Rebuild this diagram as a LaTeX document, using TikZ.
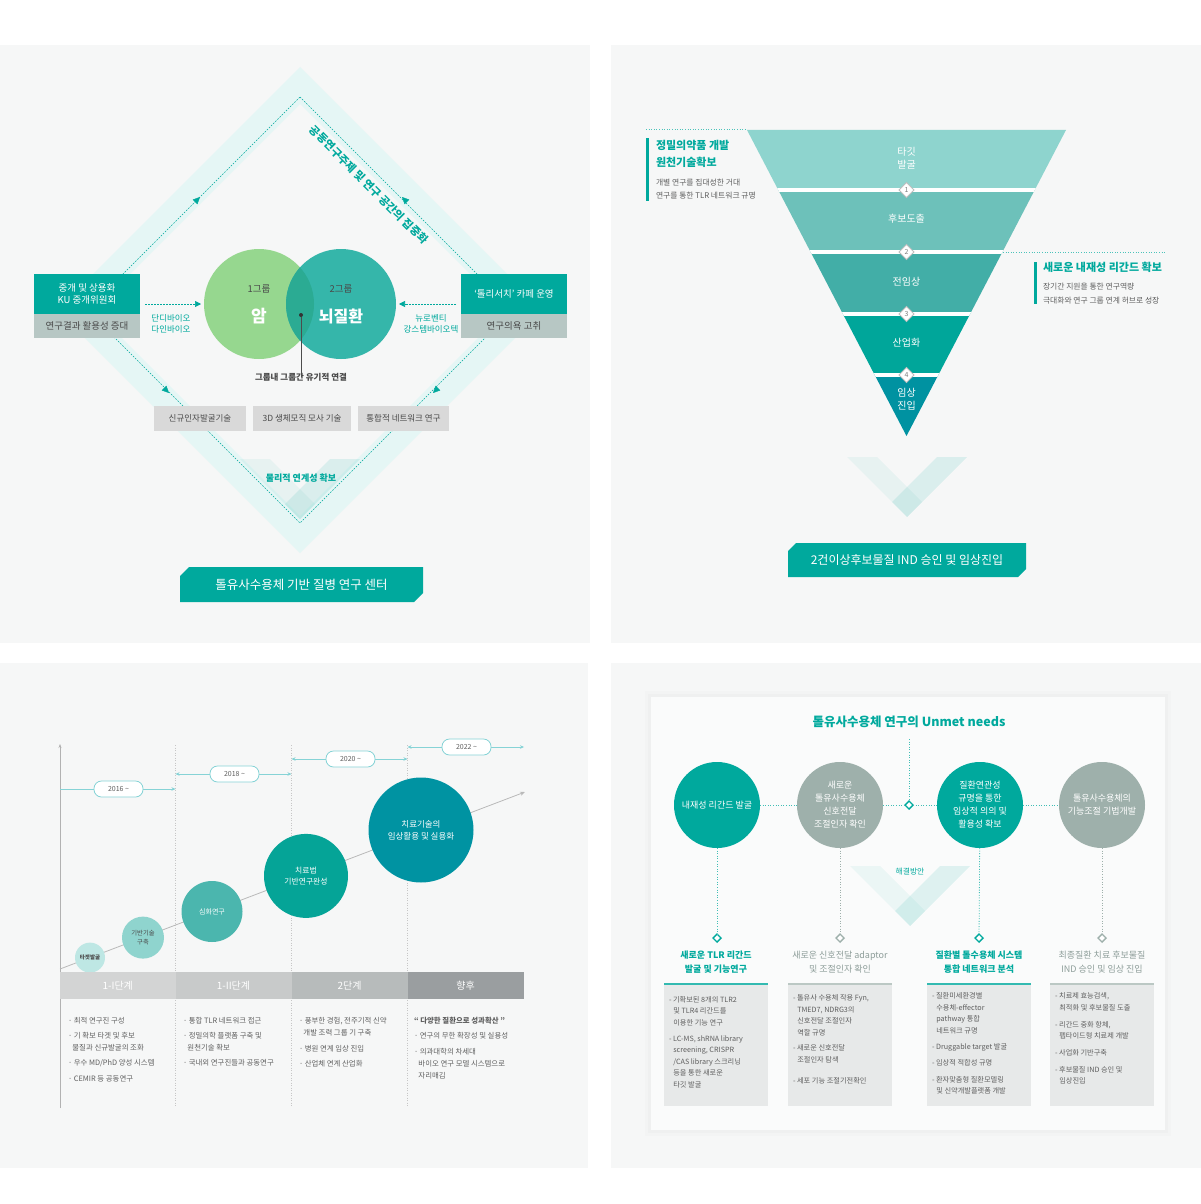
\documentclass[tikz,border=0pt]{standalone}
\usepackage{fontspec}
\setmainfont{Noto Sans CJK KR}
\usetikzlibrary{arrows.meta,shapes.geometric}
\definecolor{cteal}{HTML}{00A99D}
\definecolor{cteal2}{HTML}{35B6AA}
\definecolor{cgreen}{HTML}{96D78F}
\definecolor{coverlap}{HTML}{2BAB93}
\definecolor{csage}{HTML}{B7C7C4}
\definecolor{cgbox}{HTML}{D9D9D9}
\definecolor{cpanel}{HTML}{F6F7F7}
\definecolor{ccard}{HTML}{FAFBFB}
\definecolor{ctext}{HTML}{4A4A4A}
\definecolor{cbody}{HTML}{5E5E5E}
\definecolor{ccyan}{HTML}{86D3D6}
\definecolor{cgrayc}{HTML}{9EB0AB}
\definecolor{cgrayh}{HTML}{8E9E9A}
\definecolor{cbox}{HTML}{E7E9E9}
\definecolor{cf1}{HTML}{8ED4CE}
\definecolor{cf2}{HTML}{6DC1BA}
\definecolor{cf3}{HTML}{42AEA7}
\definecolor{cf4}{HTML}{00A69A}
\definecolor{cf5}{HTML}{0092A1}
\definecolor{cp1}{HTML}{D3D4D4}
\definecolor{cp2}{HTML}{C8CACA}
\definecolor{cp3}{HTML}{B7BBBB}
\definecolor{cp4}{HTML}{9A9EA0}
\definecolor{cc1}{HTML}{BEE7E4}
\definecolor{cc2}{HTML}{8FD4CE}
\definecolor{cc3}{HTML}{4BB6AE}
\definecolor{cc4}{HTML}{05A497}
\definecolor{cc5}{HTML}{0093A2}
\newcommand{\fsz}[2]{\fontsize{#1}{#2}\selectfont}
\newcommand{\ind}{\hspace*{0.6em}}
\newcommand{\vmark}[2]{%
  \fill[cteal, fill opacity=0.06] (#1-60,#2) -- (#1-30,#2) -- (#1+15,#2+45) -- (#1,#2+60) -- cycle;
  \fill[cteal, fill opacity=0.11] (#1+30,#2) -- (#1+60,#2) -- (#1,#2+60) -- (#1-15,#2+45) -- cycle;}
\tikzset{
  every node/.style={inner sep=0pt, outer sep=0pt},
  tdash/.style={draw=cteal, line width=0.6pt, dash pattern=on 1.6pt off 1.4pt},
  tiptri/.style={-{Triangle[length=7pt,width=6.5pt]}, draw=cteal, fill=cteal, line width=0.4pt},
  sidebox/.style={fill=cteal, text=white, minimum width=106pt, minimum height=40pt, align=center, font=\fsz{9.5}{12.5}},
  sidelow/.style={fill=csage, text=ctext, minimum width=106pt, minimum height=24pt, font=\fsz{9.5}{11}, anchor=north},
  gbox/.style={fill=cgbox, text=ctext, minimum height=25pt, font=\fsz{8.5}{10}},
  fl/.style={text=white, align=center, font=\fsz{10}{12.5}},
  numd/.style={diamond, draw=gray!50, line width=0.9pt, fill=white, minimum size=15pt, font=\fsz{7}{7}, text=gray},
  anth/.style={anchor=west, align=left, text=cteal, font=\bfseries\fsz{11}{17}},
  ants/.style={anchor=west, align=left, text=cbody, font=\fsz{7.8}{13.5}},
  yp/.style={draw=ccyan, line width=0.8pt, fill=white, rounded corners=7.5pt, minimum width=49pt, minimum height=16pt, font=\fsz{7}{7}, text=cbody},
  yarr/.style={draw=ccyan, line width=0.6pt, {Stealth[length=4pt,width=3.5pt]}-{Stealth[length=4pt,width=3.5pt]}},
  tc/.style={circle, align=center},
  pb/.style={minimum height=27pt, text=white, font=\fsz{10}{10}},
  bl/.style={anchor=north west, align=left, text=cbody, font=\fsz{7.4}{12}},
  mc/.style={circle, minimum size=86pt, text=white, align=center, font=\fsz{9}{13}},
  bdot/.style={draw=cteal!75, line width=0.8pt, dash pattern=on 1pt off 1.6pt},
  bdotg/.style={draw=cgrayc, line width=0.8pt, dash pattern=on 1pt off 1.6pt},
  smd/.style={diamond, draw=cteal, line width=1.4pt, fill=white, minimum size=8pt},
  smdg/.style={diamond, draw=cgrayc, line width=1.4pt, fill=white, minimum size=8pt},
  hdt/.style={text=cteal, font=\bfseries\fsz{9}{14}, align=center},
  hdg/.style={text=cgrayh, font=\fsz{9}{14}, align=center},
  bt/.style={anchor=north west, align=left, text=cbody, font=\fsz{7.2}{11.5}},
  ttlbox/.style={text=white, font=\fsz{12.5}{14}}
}
\begin{document}
\begin{tikzpicture}[x=1pt,y=-1pt]
\useasboundingbox (0,0) rectangle (1201,1204);
\fill[white] (0,0) rectangle (1201,1204);
% ---------------- panels
\fill[cpanel] (0,45) rectangle (590,643);
\fill[cpanel] (611,45) rectangle (1201,643);
\fill[cpanel] (0,663) rectangle (588,1168);
\fill[cpanel] (611,663) rectangle (1201,1168);

% ================= TOP LEFT =================
\fill[cteal!10, even odd rule] (300,67)--(543,310)--(300,553)--(57,310)--cycle
  (300,104)--(506,310)--(300,516)--(94,310)--cycle;
\vmark{300}{459}
\draw[tdash] (300,97)--(513,310)--(300,523)--(87,310)--cycle;
\draw[tiptri] (196,201) -- (200,197);
\draw[tiptri] (406,201) -- (402,197);
\draw[tiptri] (165,389) -- (169,393);
\draw[tiptri] (437,389) -- (433,393);
\node[rotate=-45, text=cteal, font=\bfseries\fsz{11}{13}] (diag) at (369,185) {공동연구주제 및 연구 공간의 집중화};

\node[circle, fill=cgreen, minimum size=110pt] (g1) at (259,304) {};
\node[circle, fill=cteal2, minimum size=110pt] (g2) at (341,304) {};
\begin{scope}
  \clip (259,304) circle[radius=55pt];
  \fill[coverlap] (341,304) circle[radius=55pt];
\end{scope}
\node[text=ctext, font=\fsz{9.5}{10}] (g1a) at (259,289) {1그룹};
\node[text=white, font=\bfseries\fsz{17}{18}] (g1b) at (259,316) {암};
\node[text=ctext, font=\fsz{9.5}{10}] (g2a) at (341,289) {2그룹};
\node[text=white, font=\bfseries\fsz{16}{18}] (g2b) at (341,316) {뇌질환};
\node[circle, fill=black!80, minimum size=4pt] (dot) at (301,315) {};
\node[text=ctext, font=\bfseries\fsz{8.5}{10}] (conn) at (301,377) {그룹내 그룹간 유기적 연결};
\draw[black!70, line width=0.7pt] (dot) -- ([yshift=-4pt]conn.north);

\node[sidebox] (lb1) at (87,294) {중개 및 상용화\\KU 중개위원회};
\node[sidelow] (lb2) at (lb1.south) {연구결과 활용성 증대};
\node[sidebox] (rb1) at (514,294) {‘톨리서치’ 카페 운영};
\node[sidelow] (rb2) at (rb1.south) {연구의욕 고취};
\draw[tdash, -{Triangle[length=6pt,width=6pt]}, shorten <=5pt, shorten >=3pt] (lb1.east |- g1.center) -- (g1.west);
\draw[tdash, -{Triangle[length=6pt,width=6pt]}, shorten <=5pt, shorten >=3pt] (rb1.west |- g2.center) -- (g2.east);
\node[align=center, text=cteal, font=\fsz{8.5}{11.5}] (lbl1) at (171,324) {단디바이오\\다인바이오};
\node[align=center, text=cteal, font=\fsz{8.5}{11.5}] (lbl2) at (431,324) {뉴로벤티\\강스템바이오텍};

\node[gbox, minimum width=92pt] (b1) at (200,418.5) {신규인자발굴기술};
\node[gbox, minimum width=98pt] (b2) at (302,418.5) {3D 생체모직 모사 기술};
\node[gbox, minimum width=91pt] (b3) at (403.5,418.5) {통합적 네트워크 연구};
\node[text=cteal, font=\bfseries\fsz{9}{10}] (phys) at (301,478) {물리적 연계성 확보};

\fill[cteal] (189,567)--(423,567)--(423,593)--(414,602)--(180,602)--(180,576)--cycle;
\node[ttlbox] (tl) at (301.5,584.5) {톨유사수용체 기반 질병 연구 센터};

% ================= TOP RIGHT =================
\begin{scope}
  \clip (747,130) -- (1066,130) -- (906.5,436) -- cycle;
  \fill[cf1] (740,125) rectangle (1075,190);
  \fill[cf2] (740,190) rectangle (1075,252);
  \fill[cf3] (740,252) rectangle (1075,314);
  \fill[cf4] (740,314) rectangle (1075,375);
  \fill[cf5] (740,375) rectangle (1075,440);
  \foreach \yy in {190,252,314,375} \draw[white, line width=3.5pt] (740,\yy) -- (1075,\yy);
\end{scope}
\node[fl] (f1) at (906.5,158) {타깃\\발굴};
\node[fl] (f2) at (906.5,219) {후보도출};
\node[fl] (f3) at (906.5,282) {전임상};
\node[fl] (f4) at (906.5,343) {산업화};
\node[fl] (f5) at (906.5,399) {임상\\진입};
\node[numd] (d1) at (906.5,190) {1};
\node[numd] (d2) at (906.5,252) {2};
\node[numd] (d3) at (906.5,314) {3};
\node[numd] (d4) at (906.5,375) {4};

\draw[cteal!70, line width=0.8pt, dash pattern=on 1pt off 1.6pt] (646,129.5) -- (747,129.5);
\fill[cteal] (646,138) rectangle (649,201);
\node[anth] (la1) at (656,153.5) {정밀의약품 개발\\원천기술확보};
\node[ants] (la2) at (656,189) {개별 연구를 집대성한 거대\\연구를 통한 TLR 네트워크 규명};
\draw[cteal!70, line width=0.8pt, dash pattern=on 1pt off 1.6pt] (1003,252) -- (1165,252);
\fill[cteal] (1034,262) rectangle (1037,304);
\node[anth] (ra1) at (1043,267) {새로운 내재성 리간드 확보};
\node[ants] (ra2) at (1043,293.5) {장기간 지원을 통한 연구역량\\극대화와 연구 그룹 연계 허브로 성장};

\vmark{907}{457}
\fill[cteal] (796,543)--(1026,543)--(1026,569)--(1018,577)--(788,577)--(788,551)--cycle;
\node[ttlbox, font=\fsz{12}{14}] (tr) at (907,560) {2건이상후보물질 IND 승인 및 임상진입};

% ================= BOTTOM LEFT =================
\foreach \xx in {175.5,291.5,407.5} \draw[gray!45, line width=0.6pt, dash pattern=on 1pt off 1.5pt] (\xx,745) -- (\xx,1106);
\draw[gray!60, line width=0.7pt, -{Stealth[length=4pt,width=3pt]}] (60,1108) -- (60,744);
\draw[yarr, {Bar[width=0pt]}-{Stealth[length=4pt,width=3.5pt]}] (60,789) -- (175.5,789);
\draw[yarr] (175.5,774) -- (291.5,774);
\draw[yarr] (291.5,759) -- (407.5,759);
\draw[yarr] (407.5,747) -- (524,747);
\node[yp] (y16) at (118.5,789) {2016 \textasciitilde};
\node[yp] (y18) at (234.5,774) {2018 \textasciitilde};
\node[yp] (y20) at (350.5,759) {2020 \textasciitilde};
\node[yp] (y22) at (466.5,747) {2022 \textasciitilde};
\draw[gray!55, line width=0.8pt, -{Stealth[length=5pt,width=4pt]}] (60,969) -- (525,792);
\node[tc, fill=cc1, minimum size=30pt, text=ctext, font=\bfseries\fsz{5.5}{7}] (t1) at (90,957.6) {타겟발굴};
\node[tc, fill=cc2, minimum size=42pt, text=ctext, font=\fsz{6.3}{9}] (t2) at (143,937.6) {기반기술\\구축};
\node[tc, fill=cc3, minimum size=61pt, text=white, font=\fsz{7}{9}] (t3) at (212,911.5) {심화연구};
\node[tc, fill=cc4, minimum size=84pt, text=white, font=\fsz{7.8}{11}] (t4) at (306,875.9) {치료법\\기반연구완성};
\node[tc, fill=cc5, minimum size=105pt, text=white, font=\fsz{8.5}{12}] (t5) at (421,830) {치료기술의\\임상활용 및 실용화};

\node[pb, fill=cp1, minimum width=115.5pt] (p1) at (117.75,985.5) {1-I단계};
\node[pb, fill=cp2, minimum width=116pt] (p2) at (233.5,985.5) {1-II단계};
\node[pb, fill=cp3, minimum width=116pt] (p3) at (349.5,985.5) {2단계};
\node[pb, fill=cp4, minimum width=116pt] (p4) at (465.5,985.5) {향후};

\node[bl] (c1) at (68,1017.5) {· 최적 연구진 구성\\[3pt]· 기 확보 타겟 및 후보\\\ind 물질과 신규발굴의 조화\\[3pt]· 우수 MD/PhD 양성 시스템\\[3.5pt]· CEMIR 등 공동연구};
\node[bl] (c2) at (183,1017.5) {· 통합 TLR 네트워크 접근\\[3pt]· 정밀의학 플랫폼 구축 및\\\ind 원천기술 확보\\[2.5pt]· 국내외 연구진들과 공동연구};
\node[bl] (c3) at (299,1017.5) {· 풍부한 경험, 전주기적 신약\\\ind 개발 조력 그룹 기 구축\\[4pt]· 병원 연계 임상 진입\\[3pt]· 산업체 연계 산업화};
\node[bl] (c4) at (414,1017.5) {\bfseries “ 다양한 질환으로 성과확산 ”\\[3pt]· 연구의 무한 확장성 및 실용성\\[4pt]· 의과대학의 차세대\\\ind 바이오 연구 모델 시스템으로\\\ind 자리매김};

% ================= BOTTOM RIGHT =================
\fill[black, opacity=0.012] (645,691) rectangle (1171,1136);
\fill[black, opacity=0.015] (648,694) rectangle (1168,1133);
\fill[ccard] (651,697) rectangle (1165,1130);
\node[text=cteal, font=\bfseries\fsz{12.5}{14}] (ttl) at (909,722) {톨유사수용체 연구의 Unmet needs};
\coordinate (tb) at (909,739);
\vmark{910}{866}
\node[text=cteal, font=\fsz{7.8}{9}] (hb) at (910,872) {해결방안};
\node[mc, fill=cteal] (m1) at (717,805) {내재성 리간드 발굴};
\node[mc, fill=cgrayc] (m2) at (840,805) {새로운\\톨유사수용체\\신호전달\\조절인자 확인};
\node[mc, fill=cteal] (m3) at (980,805) {질환연관성\\규명을 통한\\임상적 의의 및\\활용성 확보};
\node[mc, fill=cgrayc] (m4) at (1102,805) {톨유사수용체의\\기능조절 기법개발};
\node[smd] (cd) at (909,805) {};
\draw[bdot] (tb) -- (cd);
\draw[bdot] (m1) -- (m2);
\draw[bdot] (m2) -- (cd);
\draw[bdot] (cd) -- (m3);
\draw[bdot] (m3) -- (m4);
\node[smd] (dd1) at (717,938) {};
\node[smdg] (dd2) at (840,938) {};
\node[smd] (dd3) at (979,938) {};
\node[smdg] (dd4) at (1102,938) {};
\draw[bdot] (m1) -- (dd1);
\draw[bdotg] (m2) -- (dd2);
\draw[bdot] (m3) -- (dd3);
\draw[bdotg] (m4) -- (dd4);
\node[hdt] (h1) at (716,962) {새로운 TLR 리간드\\발굴 및 기능연구};
\node[hdg] (h2) at (840,962) {새로운 신호전달 adaptor\\및 조절인자 확인};
\node[hdt] (h3) at (979,962) {질환별 톨수용체 시스템\\통합 네트워크 분석};
\node[hdg] (h4) at (1102,962) {최종질환 치료 후보물질\\IND 승인 및 임상 진입};
\fill[cbox] (664,984) rectangle (768,1106);
\fill[cbox] (788,984) rectangle (892,1106);
\fill[cbox] (927,984) rectangle (1031,1106);
\fill[cbox] (1050,984) rectangle (1154,1106);
\draw[cteal!80, line width=1.4pt] (664,984) -- (768,984);
\draw[cgrayc!70, line width=1.4pt] (788,984) -- (892,984);
\draw[cteal!80, line width=1.4pt] (927,984) -- (1031,984);
\draw[cgrayc!70, line width=1.4pt] (1050,984) -- (1154,984);
\node[bt] (x1) at (669,996) {- 기확보된 8개의 TLR2\\\ind 및 TLR4 리간드를\\\ind 이용한 기능 연구\\[4.5pt]- LC-MS, shRNA library\\\ind screening, CRISPR\\\ind /CAS library 스크리닝\\\ind 등을 통한 새로운\\\ind 타깃 발굴};
\node[bt] (x2) at (793,995) {- 톨유사 수용체 작용 Fyn,\\\ind TMED7, NDRG3의\\\ind 신호전달 조절인자\\\ind 역할 규명\\[4pt]- 새로운 신호전달\\\ind 조절인자 탐색\\[10pt]- 세포 기능 조절기전확인};
\node[bt] (x3) at (932,993) {- 질환미세환경별\\\ind 수용체-effector\\\ind pathway 통합\\\ind 네트워크 규명\\[4.5pt]- Druggable target 발굴\\[5pt]- 임상적 적합성 규명\\[5pt]- 환자맞춤형 질환모델링\\\ind 및 신약개발플랫폼 개발};
\node[bt] (x4) at (1055,993) {- 치료제 효능검색,\\\ind 최적화 및 후보물질 도출\\[5.5pt]- 리간드 중화 항체,\\\ind 펩타이드형 치료제 개발\\[5.5pt]- 사업화 기반구축\\[5pt]- 후보물질 IND 승인 및\\\ind 임상진입};
\end{tikzpicture}
\end{document}
